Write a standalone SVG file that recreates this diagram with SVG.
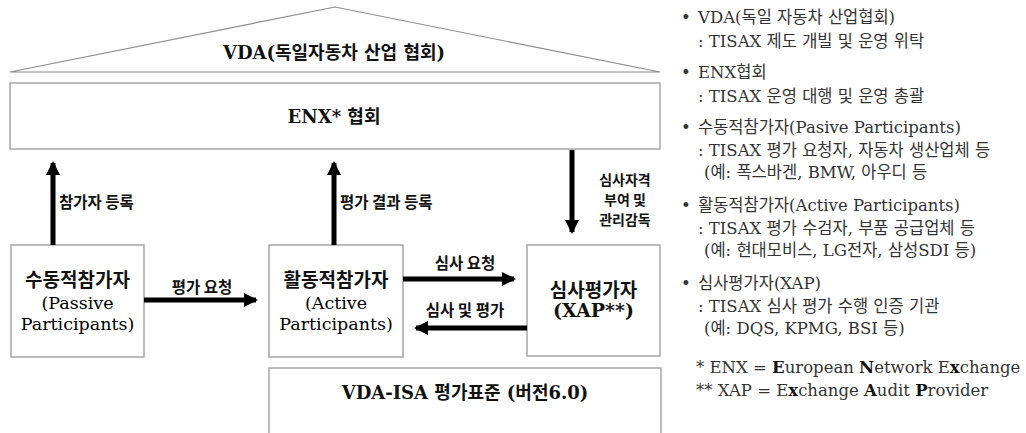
<svg xmlns="http://www.w3.org/2000/svg" width="1026" height="433" viewBox="0 0 1026 433">
<style>
.box{fill:#fff;stroke:#a6a6a6;stroke-width:1.5}
.roof{fill:#fff;stroke:#8c8c8c;stroke-width:1.2}
.conn{stroke:#000;stroke-width:5;fill:none}
.nt{font-family:"DejaVu Serif","Noto Sans CJK KR",serif;font-size:17.5px;fill:#000;text-anchor:middle}
.nk{font-family:"DejaVu Serif","Noto Sans CJK KR",serif;font-weight:bold;font-size:19px;fill:#111;text-anchor:middle}
.lb{font-family:"Noto Sans CJK KR","DejaVu Sans",sans-serif;font-weight:bold;font-size:15.5px;fill:#111}
.rt{font-family:"DejaVu Serif","Noto Sans CJK KR",serif;font-size:16.5px;fill:#333}
.b{font-weight:bold;fill:#111}
</style>
<defs>
<marker id="ah" viewBox="0 0 14 14" refX="12" refY="7" markerWidth="14" markerHeight="14" markerUnits="userSpaceOnUse" orient="auto">
<path d="M0,0 L14,7 L0,14 Z" fill="#000"/>
</marker>
</defs>
<g id="vda">
<path class="roof" d="M10,72 L335,7 L660,72 Z"/>
<text class="nk" x="334" y="59" style="font-size:18px">VDA(독일자동차 산업 협회)</text>
</g>
<g id="enx">
<rect class="box" x="10" y="83" width="650" height="66"/>
<text class="nk" x="334" y="123" style="font-size:18px">ENX* 협회</text>
</g>
<g id="passive">
<rect class="box" x="11" y="245" width="133" height="112"/>
<text class="nk" x="77.5" y="287">수동적참가자</text>
<text class="nt" x="77.5" y="309">(Passive</text>
<text class="nt" x="77.5" y="330">Participants)</text>
</g>
<g id="active">
<rect class="box" x="269" y="245" width="134" height="112"/>
<text class="nk" x="336" y="287">활동적참가자</text>
<text class="nt" x="336" y="309">(Active</text>
<text class="nt" x="336" y="330">Participants)</text>
</g>
<g id="xap">
<rect class="box" x="527" y="245" width="133" height="111"/>
<text class="nk" x="593.5" y="297">심사평가자</text>
<text class="nk" x="593.5" y="317">(XAP**)</text>
</g>
<g id="isa">
<rect class="box" x="269" y="368" width="392" height="80"/>
<text class="nk" x="465" y="399" style="font-size:18px">VDA-ISA 평가표준 (버전6.0)</text>
</g>
<g id="connectors">
<line class="conn" x1="53" y1="245" x2="53" y2="163" marker-end="url(#ah)"/>
<line class="conn" x1="334" y1="245" x2="334" y2="163" marker-end="url(#ah)"/>
<line class="conn" x1="572" y1="150" x2="572" y2="232" marker-end="url(#ah)"/>
<line class="conn" x1="144" y1="300" x2="256" y2="300" marker-end="url(#ah)"/>
<line class="conn" x1="403" y1="279" x2="514" y2="279" marker-end="url(#ah)"/>
<line class="conn" x1="527" y1="328" x2="416" y2="328" marker-end="url(#ah)"/>
<text class="lb" x="59" y="208">참가자 등록</text>
<text class="lb" x="340" y="208">평가 결과 등록</text>
<text class="lb" x="202" y="293" text-anchor="middle">평가 요청</text>
<text class="lb" x="465" y="269" text-anchor="middle">심사 요청</text>
<text class="lb" x="465" y="316" text-anchor="middle">심사 및 평가</text>
<text class="lb" text-anchor="middle" style="font-size:14px"><tspan x="625" y="185">심사자격</tspan><tspan x="625" y="205">부여 및</tspan><tspan x="625" y="225">관리감독</tspan></text>
</g>
<g id="legend">
<text class="rt" x="681" y="23">•</text><text class="rt" x="698" y="23">VDA(독일 자동차 산업협회)</text>
<text class="rt" x="698" y="47">: TISAX 제도 개빌 및 운영 위탁</text>
<text class="rt" x="681" y="78">•</text><text class="rt" x="698" y="78">ENX협회</text>
<text class="rt" x="698" y="102">: TISAX 운영 대행 및 운영 총괄</text>
<text class="rt" x="681" y="133">•</text><text class="rt" x="698" y="133">수동적참가자(Pasive Participants)</text>
<text class="rt" x="698" y="156">: TISAX 평가 요청자, 자동차 생산업체 등</text>
<text class="rt" x="704" y="178">(예: 폭스바겐, BMW, 아우디 등</text>
<text class="rt" x="681" y="211">•</text><text class="rt" x="698" y="211">활동적참가자(Active Participants)</text>
<text class="rt" x="698" y="234">: TISAX 평가 수검자, 부품 공급업체 등</text>
<text class="rt" x="704" y="256">(예: 현대모비스, LG전자, 삼성SDI 등)</text>
<text class="rt" x="681" y="289">•</text><text class="rt" x="698" y="289">심사평가자(XAP)</text>
<text class="rt" x="698" y="312">: TISAX 심사 평가 수행 인증 기관</text>
<text class="rt" x="704" y="334">(예: DQS, KPMG, BSI 등)</text>
<text class="rt" x="696" y="373">* ENX = <tspan class="b">E</tspan>uropean <tspan class="b">N</tspan>etwork E<tspan class="b">x</tspan>change</text>
<text class="rt" x="696" y="396">** XAP = E<tspan class="b">x</tspan>change <tspan class="b">A</tspan>udit <tspan class="b">P</tspan>rovider</text>
</g>
</svg>
